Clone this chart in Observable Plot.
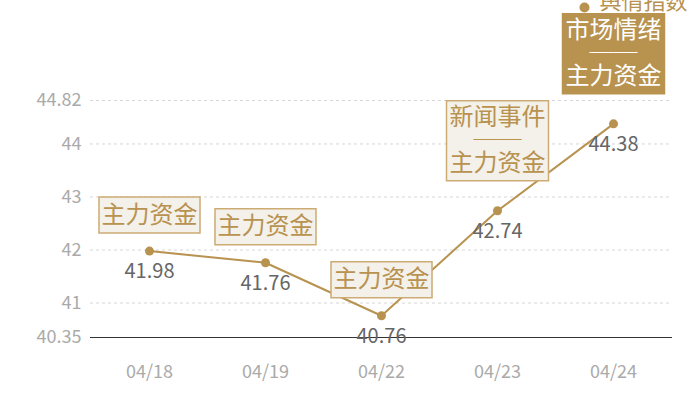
<!DOCTYPE html>
<html>
<head>
<meta charset="utf-8">
<script src="https://cdn.jsdelivr.net/npm/d3@7"></script>
<script src="https://cdn.jsdelivr.net/npm/@observablehq/plot@0.6"></script>
<style>
  body { margin: 0; background: #fff; }
  #chart svg { font-family: "Noto Sans CJK SC", "Noto Sans", sans-serif; }
</style>
</head>
<body>
<div id="chart"></div>
<script>
const dates = ["04/18", "04/19", "04/22", "04/23", "04/24"];
const prices = [41.98, 41.76, 40.76, 42.74, 44.38];
const events = ["主力资金", "主力资金", "主力资金", "新闻事件\n──\n主力资金", "市场情绪\n──\n主力资金"];
const highlighted = [false, false, false, false, true];
const yTicks = [40.35, 41, 42, 43, 44, 44.82];
const legendLabel = "舆情指数";

const rows = dates.map((d, i) => ({
  date: d, price: prices[i], event: events[i],
  multi: events[i].includes("\n"), hi: highlighted[i]
}));
const single = rows.filter(r => !r.multi);
const multiPlain = rows.filter(r => r.multi && !r.hi);
const multiHi = rows.filter(r => r.multi && r.hi);

const gold = "#b8924f";
const boxSmall = { draw(ctx) { ctx.rect(-50.5, -18, 101, 36); } };
const boxTall = { draw(ctx) { ctx.rect(-51, -40, 102, 80); } };

const chart = Plot.plot({
  width: 700,
  height: 400,
  marginLeft: 90,
  marginRight: 28,
  marginTop: 100,
  marginBottom: 63,
  style: { background: "#fff", fontFamily: "Noto Sans CJK SC, sans-serif" },
  x: { type: "point", domain: dates, padding: 0.5 },
  y: { domain: [40.35, 44.82] },
  marks: [
    Plot.ruleY(yTicks.slice(1), { stroke: "#d6d6d6", strokeDasharray: "3,3", strokeWidth: 1 }),
    Plot.ruleY([yTicks[0]], { stroke: "#333", strokeWidth: 1.2 }),
    Plot.axisY({ ticks: yTicks, tickSize: 0, tickPadding: 9, fontSize: 18, color: "#aaa", label: null, tickFormat: d => String(d) }),
    Plot.axisX({ tickSize: 0, tickPadding: 28, fontSize: 18, color: "#aaa", label: null }),
    Plot.line(rows, { x: "date", y: "price", stroke: gold, strokeWidth: 2 }),
    Plot.dot(rows, { x: "date", y: "price", r: 4.5, fill: gold, stroke: "none" }),
    Plot.text(rows, { x: "date", y: "price", text: d => d.price.toFixed(2), dy: 21, fill: "#666", fontSize: 20 }),
    Plot.text([legendLabel], { frameAnchor: "top-left", dx: 509, dy: -99, textAnchor: "start", lineAnchor: "middle", fill: gold, fontSize: 22 }),
    Plot.dot([legendLabel], { frameAnchor: "top-left", dx: 494, dy: -93, r: 5, fill: gold, stroke: "none" }),
    Plot.dot(single, { x: "date", y: "price", dy: -36, symbol: boxSmall, r: 5, fill: "#f4f0ea", stroke: "#cdab74", strokeWidth: 1.5 }),
    Plot.text(single, { x: "date", y: "price", dy: -36, text: "event", fill: gold, fontSize: 24 }),
    Plot.dot(multiPlain, { x: "date", y: "price", dy: -70, symbol: boxTall, r: 5, fill: "#f4f0ea", stroke: "#cdab74", strokeWidth: 1.5 }),
    Plot.text(multiPlain, { x: "date", y: "price", dy: -70, text: "event", fill: gold, fontSize: 24, lineHeight: 0.95 }),
    Plot.dot(multiHi, { x: "date", y: "price", dy: -70, symbol: boxTall, r: 5, fill: gold, stroke: gold, strokeWidth: 1.5 }),
    Plot.text(multiHi, { x: "date", y: "price", dy: -70, text: "event", fill: "#fff", fontSize: 24, lineHeight: 0.95 })
  ]
});
document.getElementById("chart").appendChild(chart);
</script>
</body>
</html>
